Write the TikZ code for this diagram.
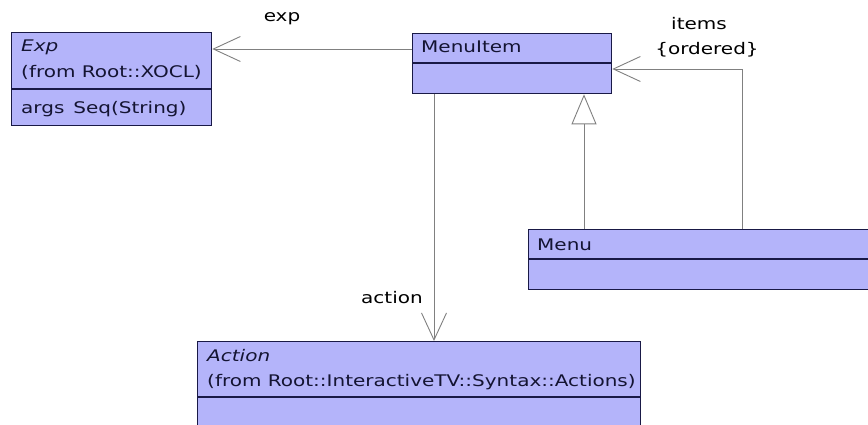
\documentclass[tikz,border=0pt]{standalone}
\usepackage{fontspec}
\setmainfont[FakeStretch=1.25]{DejaVu Sans}
\usetikzlibrary{arrows.meta,calc}
\definecolor{boxfill}{RGB}{180,180,250}
\definecolor{boxline}{RGB}{25,25,70}
\definecolor{conn}{RGB}{128,128,128}
\definecolor{txt}{RGB}{20,20,50}
\begin{document}
\begin{tikzpicture}[x=1pt,y=-1pt,
  classbox/.style={rectangle,draw=boxline,fill=boxfill,line width=1.3pt,inner sep=0pt,anchor=north west},
  divider/.style={draw=boxline,line width=1.3pt},
  lbl/.style={inner sep=0pt,anchor=base west,text=txt,font=\fontsize{16}{19}\selectfont},
  clbl/.style={inner sep=0pt,anchor=base,text=black,font=\fontsize{16}{19}\selectfont},
  assoc/.style={draw=conn,line width=0.9pt,-{Straight Barb[length=27pt,width=25pt,line width=0.9pt]}},
  gen/.style={draw=conn,line width=0.9pt,-{Triangle[open,fill=white,length=30pt,width=25pt,line width=0.9pt]}}]
\useasboundingbox (0,0) rectangle (868,425);
\clip (0,0) rectangle (868,425);
\fill[white] (0,0) rectangle (868,425);

% classes
\node[classbox,minimum width=200pt,minimum height=93pt] (exp) at (11,32) {};
\draw[divider] (exp.west |- 0,89) -- (exp.east |- 0,89);
\node[lbl,font=\fontsize{16}{19}\selectfont\itshape] (expname) at (21,52) {Exp};
\node[lbl] (expfrom) at (21,78) {(from Root::XOCL)};
\node[lbl] (expattr) at (21,114) {args\, Seq(String)};

\node[classbox,minimum width=199pt,minimum height=60pt] (menuitem) at (412,33) {};
\draw[divider] (menuitem.west |- 0,63) -- (menuitem.east |- 0,63);
\node[lbl] (menuitemname) at (421,53) {MenuItem};

\node[classbox,minimum width=380pt,minimum height=60pt] (menu) at (528,229) {};
\draw[divider] (menu.west |- 0,259) -- (menu.east |- 0,259);
\node[lbl] (menuname) at (537,250) {Menu};

\node[classbox,minimum width=443pt,minimum height=120pt] (action) at (197,341) {};
\draw[divider] (action.west |- 0,397) -- (action.east |- 0,397);
\node[lbl,font=\fontsize{16}{19}\selectfont\itshape] (actionname) at (207,361) {Action};
\node[lbl] (actionfrom) at (207,386) {(from Root::InteractiveTV::Syntax::Actions)};

% connectors
\coordinate (expA) at (menuitem.west |- 0,49);
\coordinate (expB) at (exp.east |- 0,49);
\draw[assoc] (expA) -- (expB);

\coordinate (itemsA) at (menu.north -| 742,0);
\coordinate (itemsB) at (menuitem.east |- 0,69);
\draw[assoc] (itemsA) |- (itemsB);

\coordinate (genA) at (menu.north -| 584,0);
\coordinate (genB) at (menuitem.south -| 584,0);
\draw[gen] (genA) -- (genB);

\coordinate (actA) at (menuitem.south -| 434,0);
\coordinate (actB) at (action.north -| 434,0);
\draw[assoc] (actA) -- (actB);

% role labels
\node[clbl] (explbl) at (282,22) {exp};
\node[clbl] (itemslbl) at (699,30) {items};
\node[clbl] (orderedlbl) at (707,55) {\{ordered\}};
\node[clbl] (actionlbl) at (392,303) {action};
\end{tikzpicture}
\end{document}
